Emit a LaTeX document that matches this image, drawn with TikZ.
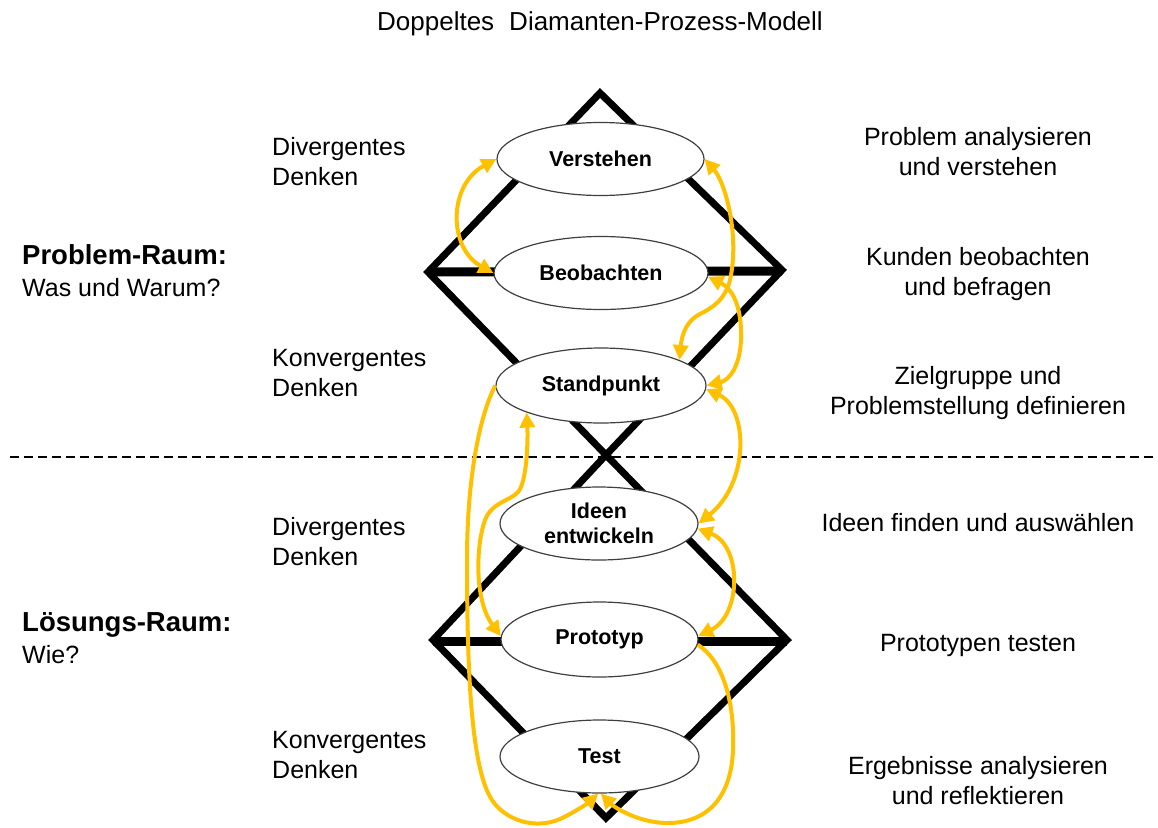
\documentclass[tikz,border=0pt]{standalone}
\usepackage{fontspec}
\setmainfont{Liberation Sans}
\usetikzlibrary{shapes.geometric,arrows.meta}
\definecolor{gold}{HTML}{FFC000}
\definecolor{rim}{HTML}{3F3F3F}

\begin{document}
\begin{tikzpicture}[x=1pt,y=-1pt,
  sidetext/.style={font=\fontsize{25}{30}\selectfont, align=left, inner sep=0pt},
  note/.style={font=\fontsize{25}{30}\selectfont, align=center, inner sep=0pt},
  phase/.style={ellipse, draw=rim, line width=1.2pt, fill=white, inner sep=0pt,
    minimum height=73pt, font=\fontsize{21.5}{25}\selectfont\bfseries, align=center},
  flow/.style={draw=gold, line width=4pt, -{Triangle[length=15pt,width=15pt]}},
  twoway/.style={flow, {Triangle[length=15pt,width=15pt]}-{Triangle[length=15pt,width=15pt]}},
  diamondline/.style={line width=7pt, line join=miter},
]
\useasboundingbox (0,0) rectangle (1158,827);

% the two diamonds with their horizontal axes
\draw[diamondline] (600,93) -- (782,270) -- (606,455) -- (428,272) -- cycle;
\draw[diamondline] (606,455) -- (787,640) -- (606,818) -- (433,640) -- cycle;
\draw[line width=9pt] (428,272) -- (782,271);
\draw[line width=9pt] (433,641) -- (787,641);

% border between problem and solution space
\draw[line width=2.2pt, dash pattern=on 9pt off 5pt] (10,457) -- (1158,457);

% process steps
\node[phase, minimum width=207pt] (verst) at (600.5,159) {Verstehen};
\node[phase, minimum width=214pt] (beob) at (601,273) {Beobachten};
\node[phase, minimum width=210pt, minimum height=75pt] (stand) at (601,385.5) {Standpunkt};
\node[phase, minimum width=198pt] (ideen) at (599,523.5) {Ideen\\entwickeln};
\node[phase, minimum width=197pt, minimum height=75pt] (proto) at (599.5,639.5) {Prototyp};
\node[phase, minimum width=199pt] (test) at (599.5,756.5) {Test};

% iterations between the steps
\draw[twoway] (verst.west) .. controls (448,185) and (448,248) .. (beob.west);
\draw[twoway] (verst.east) .. controls (725,182) and (740,235) .. (730,280)
  .. controls (725,300) and (712,308) .. (700,314)
  .. controls (688,320) and (682,332) .. (stand.18);
\draw[twoway] (beob.-2) .. controls (735,290) and (742,312) .. (741,340)
  .. controls (740,365) and (730,380) .. (stand.east);
\draw[twoway] (stand.-2) .. controls (748,408) and (750,482) .. (ideen.east);
\draw[twoway] (ideen.-3) .. controls (742,545) and (742,615) .. (proto.2);
\draw[flow] (proto.-3) .. controls (722,660) and (735,700) .. (733,750)
  .. controls (731,800) and (705,824) .. (665,823)
  .. controls (638,822) and (615,808) .. (test.-88);
\draw[flow] (stand.west) .. controls (482,410) and (467,470) .. (467,560)
  .. controls (467,680) and (472,770) .. (492,800)
  .. controls (505,820) and (535,830) .. (560,819)
  .. controls (575,812) and (588,803) .. (test.-92);
\draw[twoway] (stand.200) .. controls (528,440) and (527,482) .. (518,492)
  .. controls (510,501) and (492,502) .. (485,520)
  .. controls (476,545) and (474,600) .. (proto.178);

% headings and descriptions
\node[note, font=\fontsize{26}{30}\selectfont] (title) at (600,24) {Doppeltes\hspace{0.3em} Diamanten-Prozess-Modell};

\node[sidetext, anchor=west] (div1) at (272,162) {Divergentes\\Denken};
\node[sidetext, anchor=west, font=\fontsize{25}{32}\selectfont] (praum) at (22,271) {{\fontsize{27.5}{32}\selectfont\bfseries Problem-Raum:}\\Was und Warum?};
\node[sidetext, anchor=west] (kon1) at (272,373) {Konvergentes\\Denken};
\node[sidetext, anchor=west] (div2) at (272,542) {Divergentes\\Denken};
\node[sidetext, anchor=west, font=\fontsize{25}{32}\selectfont] (lraum) at (22,638) {{\fontsize{27.5}{32}\selectfont\bfseries Lösungs-Raum:}\\Wie?};
\node[sidetext, anchor=west] (kon2) at (272,755) {Konvergentes\\Denken};

\node[note] (r1) at (978,152) {Problem analysieren\\und verstehen};
\node[note] (r2) at (978,274) {Kunden beobachten\\und befragen};
\node[note] (r3) at (978,393) {Zielgruppe und\\Problemstellung definieren};
\node[note] (r4) at (978,523) {Ideen finden und auswählen};
\node[note] (r5) at (978,645) {Prototypen testen};
\node[note] (r6) at (978,781) {Ergebnisse analysieren\\und reflektieren};
\end{tikzpicture}
\end{document}
